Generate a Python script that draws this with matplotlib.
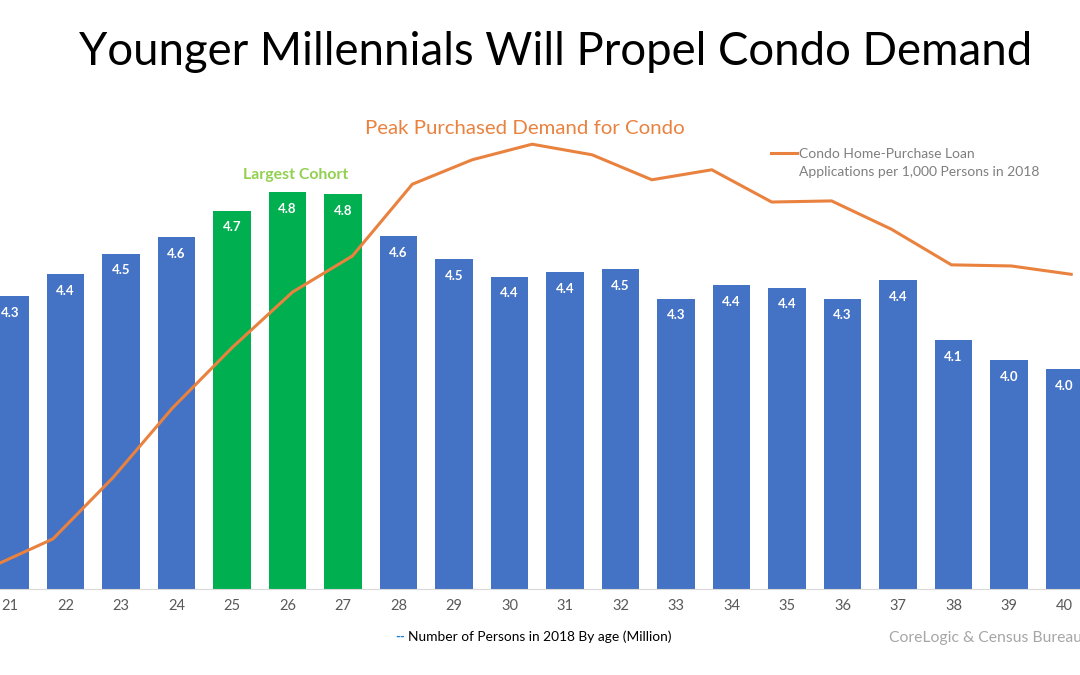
'''
Condo demand chart: persons by age as bars, with the condo purchase loan
application rate drawn over them on its own hidden axes.
'''
import matplotlib
matplotlib.use('Agg')
import matplotlib.pyplot as plt

plt.rcParams['font.family'] = ['Lato', 'DejaVu Sans']

ages = list(range(21, 41))
persons = [4.33, 4.43, 4.525, 4.60, 4.72, 4.805, 4.795, 4.605, 4.50, 4.42,
           4.44, 4.455, 4.32, 4.38, 4.37, 4.32, 4.405, 4.13, 4.04, 4.00]
largest_cohort = [25, 26, 27]

# the line was placed by hand in the original, so it does not line up with the bars
line_ages = list(range(21, 40))
applications = [0.41, 0.90, 2.00, 3.26, 4.35, 5.34, 5.99, 7.28, 7.72, 8.00,
                7.81, 7.36, 7.54, 6.96, 6.98, 6.47, 5.83, 5.81, 5.66]

blue = '#4472C4'
green = '#00B050'
orange = '#E9823F'

fig = plt.figure(figsize=(10.8, 6.75), dpi=100)
ax = fig.add_axes([0, 86/675, 1, 589/675])
colors = [green if a in largest_cohort else blue for a in ages]
bars = ax.bar(ages, persons, width=0.667, color=colors, bottom=0)
ax.set_xlim(21 - 10/55.5, 21 + 1070/55.5)
ax.set_ylim(3.0, 3.0 + 589/220)
ax.set_xticks(ages)
ax.set_yticks([])
ax.tick_params(axis='x', length=0, pad=7, labelsize=10.5, labelcolor='#595959')
for side in ['top', 'left', 'right']:
    ax.spines[side].set_visible(False)
ax.spines['bottom'].set_color('#D9D9D9')

for a, v in zip(ages, persons):
    ax.annotate('%.1f' % v, (a, v), xytext=(0, -12), textcoords='offset points',
                ha='center', va='center', color='white', fontsize=9.5,
                fontweight='bold')

ax2 = fig.add_axes([0, 86/675, 1, 589/675], frameon=False)
ax2.plot(line_ages, applications, color=orange, lw=2.2,
         label='Condo Home-Purchase Loan')
# second legend row has no line of its own
ax2.plot([], [], color='none', label='Applications per 1,000 Persons in 2018')
ax2.set_xlim(21 + 7/59.9, 21 + 1087/59.9)
ax2.set_ylim(0, 589/55.6)
ax2.set_xticks([])
ax2.set_yticks([])
ax2.legend(loc='upper left', bbox_to_anchor=(771/1080, 1 - 147.5/589), frameon=False,
           fontsize=10, labelcolor='#7F7F7F', handlelength=1.9, handletextpad=0.15,
           borderpad=0, borderaxespad=0, labelspacing=0.45)

fig.text(556/1080, 1 - 52/675, 'Younger Millennials Will Propel Condo Demand',
         ha='center', va='center', fontsize=32.8, color='black')
fig.text(525/1080, 1 - 128.5/675, 'Peak Purchased Demand for Condo',
         ha='center', va='center', fontsize=14.7, color=orange)
fig.text(296/1080, 1 - 175/675, 'Largest Cohort',
         ha='center', va='center', fontsize=11.4, color='#92D050', fontweight='bold')
fig.text(395/1080, 1 - 637/675, '--', ha='left', va='center', fontsize=9.5,
         color='#1E7FD0', fontweight='bold')
fig.text(408/1080, 1 - 637/675, 'Number of Persons in 2018 By age (Million)',
         ha='left', va='center', fontsize=9.9, color='black')
fig.text(889/1080, 1 - 638/675, 'CoreLogic & Census Bureau',
         ha='left', va='center', fontsize=11.3, color='#A6A6A6')

fig.savefig('out.png', dpi=100)
